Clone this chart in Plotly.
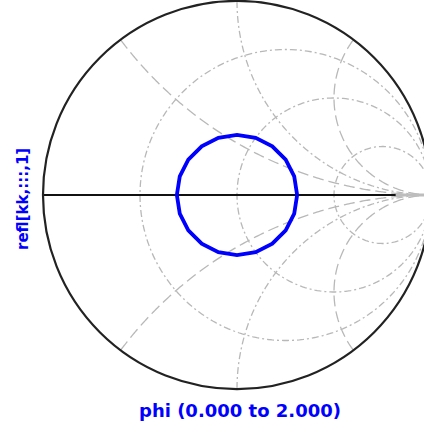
import numpy as np
import plotly.graph_objects as go

# ---- data ----
phi = [0.0, 0.1, 0.2, 0.3, 0.4, 0.5, 0.6, 0.7, 0.8, 0.9, 1.0,
       1.1, 1.2, 1.3, 1.4, 1.5, 1.6, 1.7, 1.8, 1.9, 2.0]
refl_re = [0.31, 0.295, 0.251, 0.182, 0.096, 0.0, -0.096, -0.182, -0.251, -0.295, -0.31,
           -0.295, -0.251, -0.182, -0.096, 0.0, 0.096, 0.182, 0.251, 0.295, 0.31]
refl_im = [0.0, 0.096, 0.182, 0.251, 0.295, 0.31, 0.295, 0.251, 0.182, 0.096, 0.0,
           -0.096, -0.182, -0.251, -0.295, -0.31, -0.295, -0.251, -0.182, -0.096, 0.0]

# grid values (normalized impedance)
r_grid = [1/3, 1.0, 3.0]
r_dash = ["7px,3px,2px,3px", "7px,3px,2px,3px", "7px,3px,2px,3px"]
x_grid = [0.5, 1.0, 2.0]
x_dash = ["11px,5px", "7px,3px,2px,3px", "11px,5px"]
axis_r_end = 10.0

x_label = "phi (0.000 to 2.000)"
y_label = "refl[kk,:::,1]"

GRID = "#b8b8b8"
BLUE = "#0000ff"

fig = go.Figure()

t = np.concatenate(([0.0], np.geomspace(1e-3, 1e4, 600)))
tt = np.concatenate((-t[::-1], t))

for r, d in zip(r_grid, r_dash):
    fig.add_trace(go.Scattersmith(real=np.full_like(tt, r), imag=tt, mode="lines",
                                  line=dict(color=GRID, width=1.3, dash=d),
                                  hoverinfo="skip", showlegend=False))
for x, d in zip(x_grid, x_dash):
    for s in (1, -1):
        fig.add_trace(go.Scattersmith(real=t, imag=np.full_like(t, s * x), mode="lines",
                                      line=dict(color=GRID, width=1.3, dash=d),
                                      hoverinfo="skip", showlegend=False))

# gray real-axis continuation and black real axis
tr = np.geomspace(axis_r_end, 1e4, 50)
fig.add_trace(go.Scattersmith(real=tr, imag=np.zeros_like(tr), mode="lines",
                              line=dict(color="#bdbdbd", width=3),
                              hoverinfo="skip", showlegend=False))
ta = np.array([0.0, axis_r_end])
fig.add_trace(go.Scattersmith(real=ta, imag=np.zeros_like(ta), mode="lines",
                              line=dict(color="#111111", width=1.8),
                              hoverinfo="skip", showlegend=False))

g = np.array(refl_re) + 1j * np.array(refl_im)
z = (1 + g) / (1 - g)
fig.add_trace(go.Scattersmith(real=z.real, imag=z.imag, mode="lines",
                              line=dict(color=BLUE, width=3.8),
                              showlegend=False, name=y_label))

W, H = 432, 427
cx, cy = 237.0, 195.0
half = 194.0
fig.update_layout(
    width=W, height=H,
    margin=dict(l=0, r=0, t=0, b=0),
    paper_bgcolor="white",
    showlegend=False,
    smith=dict(
        domain=dict(x=[(cx - half) / W, (cx + half) / W],
                    y=[1 - (cy + half) / H, 1 - (cy - half) / H]),
        bgcolor="white",
        realaxis=dict(showgrid=False, showticklabels=False, ticks="", showline=False,
                      tickvals=[]),
        imaginaryaxis=dict(showgrid=False, showticklabels=False, ticks="", showline=True,
                           linecolor="#222222", linewidth=2.2, tickvals=[]),
    ),
    annotations=[
        dict(text=x_label, xref="paper", yref="paper", x=240 / W, y=1 - 410 / H,
             showarrow=False, xanchor="center", yanchor="middle",
             font=dict(family="DejaVu Sans", size=18, color=BLUE, weight="bold")),
        dict(text=y_label, xref="paper", yref="paper", x=23 / W, y=1 - 199 / H,
             showarrow=False, xanchor="center", yanchor="middle", textangle=-90,
             font=dict(family="DejaVu Sans", size=15, color=BLUE, weight="bold")),
    ],
)

fig.write_html(
    "out.html",
    config={"displayModeBar": False},
    post_script="document.body.style.margin='0px';document.body.style.overflow='hidden';",
)
